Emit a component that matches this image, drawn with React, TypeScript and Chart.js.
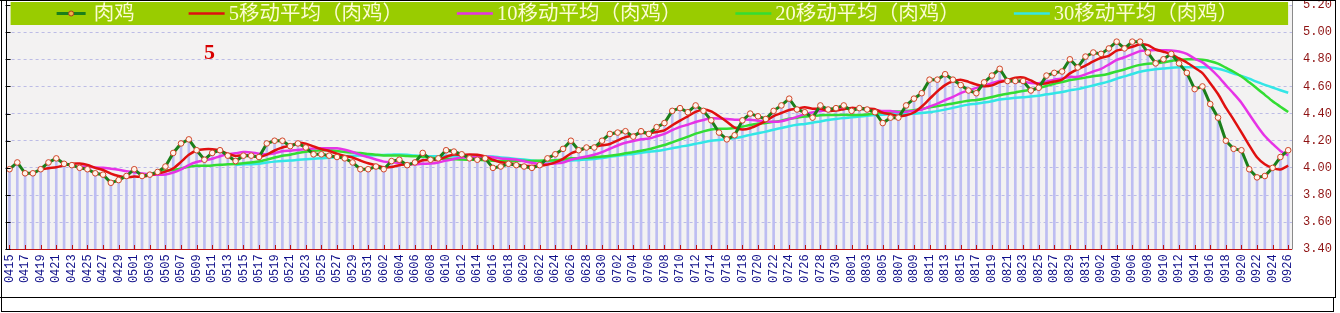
import React, { useEffect, useRef } from "react";
import { Chart, registerables } from "chart.js";
Chart.register(...registerables);

const dates = [
  "0415","0416","0417","0418","0419","0420","0421","0422","0423","0424","0425","0426","0427","0428","0429","0430",
  "0501","0502","0503","0504","0505","0506","0507","0508","0509","0510","0511","0512","0513","0514","0515","0516",
  "0517","0518","0519","0520","0521","0522","0523","0524","0525","0526","0527","0528","0529","0530","0531",
  "0601","0602","0603","0604","0605","0606","0607","0608","0609","0610","0611","0612","0613","0614","0615","0616",
  "0617","0618","0619","0620","0621","0622","0623","0624","0625","0626","0627","0628","0629","0630",
  "0701","0702","0703","0704","0705","0706","0707","0708","0709","0710","0711","0712","0713","0714","0715","0716",
  "0717","0718","0719","0720","0721","0722","0723","0724","0725","0726","0727","0728","0729","0730","0731",
  "0801","0802","0803","0804","0805","0806","0807","0808","0809","0810","0811","0812","0813","0814","0815","0816",
  "0817","0818","0819","0820","0821","0822","0823","0824","0825","0826","0827","0828","0829","0830","0831",
  "0901","0902","0903","0904","0905","0906","0907","0908","0909","0910","0911","0912","0913","0914","0915","0916",
  "0917","0918","0919","0920","0921","0922","0923","0924","0925","0926",
];

const meatPrice = [
  3.99,4.04,3.96,3.96,3.99,4.04,4.07,4.03,4.02,4.00,
  3.99,3.96,3.95,3.89,3.91,3.94,3.99,3.94,3.95,3.97,
  4.01,4.11,4.18,4.21,4.13,4.06,4.11,4.13,4.09,4.05,
  4.09,4.09,4.08,4.18,4.20,4.20,4.16,4.18,4.15,4.10,
  4.10,4.09,4.08,4.07,4.04,3.99,3.99,4.01,3.99,4.05,
  4.06,4.02,4.04,4.11,4.06,4.07,4.13,4.12,4.10,4.07,
  4.06,4.07,4.00,4.01,4.03,4.02,4.01,4.00,4.02,4.07,
  4.10,4.14,4.20,4.13,4.15,4.15,4.20,4.25,4.26,4.27,
  4.23,4.27,4.25,4.30,4.33,4.42,4.44,4.41,4.46,4.42,
  4.35,4.26,4.21,4.24,4.35,4.40,4.38,4.36,4.42,4.46,
  4.51,4.43,4.41,4.37,4.46,4.43,4.44,4.46,4.42,4.44,
  4.43,4.41,4.33,4.37,4.37,4.46,4.51,4.55,4.65,4.65,
  4.69,4.65,4.61,4.57,4.55,4.63,4.68,4.73,4.64,4.64,
  4.64,4.57,4.59,4.68,4.70,4.71,4.80,4.74,4.82,4.85,
  4.84,4.88,4.93,4.88,4.93,4.93,4.85,4.77,4.80,4.84,
  4.77,4.70,4.58,4.60,4.47,4.37,4.20,4.14,4.13,3.99,
  3.93,3.94,4.00,4.08,4.13,
];

const ma5 = [
  null,null,null,null,3.988,3.998,4.004,4.018,4.03,4.032,
  4.022,4.0,3.984,3.958,3.94,3.93,3.936,3.934,3.946,3.958,
  3.972,3.996,4.044,4.096,4.128,4.138,4.138,4.128,4.104,4.088,
  4.094,4.09,4.08,4.098,4.128,4.15,4.164,4.184,4.178,4.158,
  4.138,4.124,4.104,4.088,4.076,4.054,4.034,4.02,4.004,4.006,
  4.02,4.026,4.032,4.056,4.058,4.06,4.082,4.098,4.096,4.098,
  4.096,4.084,4.06,4.042,4.034,4.026,4.014,4.014,4.016,4.024,
  4.04,4.066,4.106,4.128,4.144,4.154,4.166,4.176,4.202,4.226,
  4.242,4.256,4.256,4.264,4.276,4.314,4.348,4.38,4.412,4.43,
  4.416,4.38,4.34,4.296,4.282,4.292,4.316,4.346,4.382,4.404,
  4.426,4.436,4.446,4.436,4.436,4.42,4.422,4.432,4.442,4.438,
  4.438,4.432,4.406,4.396,4.382,4.388,4.408,4.452,4.508,4.564,
  4.61,4.638,4.65,4.634,4.614,4.602,4.608,4.632,4.646,4.664,
  4.666,4.644,4.616,4.624,4.636,4.65,4.696,4.726,4.754,4.784,
  4.81,4.826,4.864,4.876,4.892,4.91,4.904,4.872,4.856,4.838,
  4.806,4.776,4.738,4.698,4.624,4.544,4.444,4.356,4.262,4.166,
  4.078,4.026,3.998,3.988,4.016,
];

const ma10 = [
  null,null,null,null,null,null,null,null,null,4.01,
  4.01,4.002,4.001,3.994,3.986,3.976,3.968,3.959,3.952,3.949,
  3.951,3.966,3.989,4.021,4.043,4.055,4.067,4.086,4.10,4.108,
  4.116,4.114,4.104,4.101,4.108,4.122,4.127,4.132,4.138,4.143,
  4.144,4.144,4.144,4.133,4.117,4.096,4.079,4.062,4.046,4.041,
  4.037,4.03,4.026,4.03,4.032,4.04,4.054,4.065,4.076,4.078,
  4.078,4.083,4.079,4.069,4.066,4.061,4.049,4.037,4.029,4.029,
  4.033,4.04,4.06,4.072,4.084,4.097,4.116,4.141,4.165,4.185,
  4.198,4.211,4.216,4.233,4.251,4.278,4.302,4.318,4.338,4.353,
  4.365,4.364,4.36,4.354,4.356,4.354,4.348,4.343,4.339,4.343,
  4.359,4.376,4.396,4.409,4.42,4.423,4.429,4.439,4.439,4.437,
  4.429,4.427,4.419,4.419,4.41,4.413,4.42,4.429,4.452,4.473,
  4.499,4.523,4.551,4.571,4.589,4.606,4.623,4.641,4.64,4.639,
  4.634,4.626,4.624,4.635,4.65,4.658,4.67,4.671,4.689,4.71,
  4.73,4.761,4.795,4.815,4.838,4.86,4.865,4.868,4.866,4.865,
  4.858,4.84,4.805,4.777,4.731,4.675,4.61,4.547,4.48,4.395,
  4.311,4.235,4.177,4.125,4.091,
];

const ma20 = [
  null,null,null,null,null,null,null,null,null,null,
  null,null,null,null,null,null,null,null,null,3.98,
  3.981,3.984,3.995,4.008,4.015,4.016,4.018,4.023,4.026,4.029,
  4.034,4.04,4.047,4.061,4.076,4.089,4.097,4.109,4.119,4.126,
  4.13,4.129,4.124,4.117,4.113,4.109,4.103,4.097,4.092,4.092,
  4.091,4.087,4.085,4.082,4.075,4.068,4.067,4.064,4.061,4.06,
  4.058,4.057,4.053,4.05,4.049,4.051,4.052,4.051,4.053,4.054,
  4.056,4.062,4.07,4.071,4.075,4.079,4.083,4.089,4.097,4.107,
  4.116,4.126,4.138,4.153,4.168,4.188,4.209,4.23,4.252,4.269,
  4.282,4.288,4.288,4.294,4.304,4.316,4.325,4.331,4.339,4.348,
  4.362,4.37,4.378,4.382,4.388,4.389,4.389,4.391,4.389,4.39,
  4.394,4.402,4.408,4.414,4.415,4.418,4.425,4.434,4.446,4.455,
  4.464,4.475,4.485,4.495,4.50,4.51,4.522,4.535,4.546,4.556,
  4.567,4.575,4.588,4.603,4.62,4.632,4.647,4.656,4.665,4.675,
  4.682,4.694,4.71,4.725,4.744,4.759,4.768,4.77,4.778,4.788,
  4.794,4.80,4.80,4.796,4.785,4.768,4.738,4.708,4.673,4.63,
  4.585,4.538,4.491,4.451,4.411,
];

const ma30 = [
  null,null,null,null,null,null,null,null,null,null,
  null,null,null,null,null,null,null,null,null,null,
  null,null,null,null,null,null,null,null,null,4.022,
  4.026,4.027,4.031,4.039,4.046,4.051,4.054,4.059,4.063,4.067,
  4.07,4.075,4.079,4.085,4.089,4.091,4.091,4.093,4.095,4.097,
  4.099,4.096,4.091,4.088,4.086,4.086,4.087,4.086,4.087,4.087,
  4.086,4.086,4.083,4.077,4.072,4.066,4.061,4.055,4.05,4.049,
  4.049,4.051,4.055,4.057,4.061,4.066,4.073,4.081,4.09,4.097,
  4.103,4.111,4.118,4.125,4.134,4.145,4.156,4.165,4.177,4.189,
  4.199,4.205,4.212,4.22,4.23,4.243,4.255,4.267,4.281,4.294,
  4.307,4.317,4.324,4.332,4.342,4.352,4.36,4.367,4.372,4.378,
  4.384,4.389,4.392,4.394,4.395,4.397,4.399,4.404,4.41,4.418,
  4.429,4.442,4.455,4.466,4.473,4.481,4.491,4.503,4.51,4.516,
  4.521,4.525,4.531,4.542,4.55,4.559,4.571,4.58,4.594,4.607,
  4.621,4.637,4.657,4.674,4.692,4.708,4.719,4.727,4.732,4.738,
  4.741,4.742,4.741,4.742,4.74,4.731,4.715,4.695,4.678,4.657,
  4.633,4.612,4.592,4.572,4.553,
];

const seriesLabels = ["肉鸡", "5移动平均（肉鸡）", "10移动平均（肉鸡）", "20移动平均（肉鸡）", "30移动平均（肉鸡）"];
const seriesColors = ["#1a7f1a", "#e01010", "#e633e6", "#33dd33", "#33e6e6"];
const annotationText = "5";

const W = 1340;
const H = 313;

const decorPlugin = {
  id: "decor",
  beforeDraw(chart: any) {
    const { ctx, chartArea: a } = chart;
    ctx.save();
    ctx.fillStyle = "#ffffff";
    ctx.fillRect(0, 0, chart.width, chart.height);
    ctx.fillStyle = "#f3f2f2";
    ctx.fillRect(a.left, a.top, a.right - a.left, a.bottom - a.top);
    ctx.restore();
  },
  afterDatasetsDraw(chart: any) {
    const { ctx, chartArea: a, scales } = chart;
    const xs = scales.x;
    const ys = scales.y;
    ctx.save();
    ctx.strokeStyle = "#c01010";
    ctx.lineWidth = 1;
    ctx.beginPath();
    ctx.moveTo(a.left, Math.round(a.bottom) + 0.5);
    ctx.lineTo(a.right, Math.round(a.bottom) + 0.5);
    for (let i = 0; i < dates.length; i += 2) {
      const px = Math.round(xs.getPixelForValue(i)) + 0.5;
      ctx.moveTo(px, Math.round(a.bottom));
      ctx.lineTo(px, Math.round(a.bottom) - 4);
    }
    ctx.stroke();
    ctx.strokeStyle = "#8a8a8a";
    ctx.beginPath();
    ctx.moveTo(Math.round(a.right) + 0.5, 0);
    ctx.lineTo(Math.round(a.right) + 0.5, a.bottom);
    ctx.stroke();
    ctx.strokeStyle = "#000000";
    ctx.beginPath();
    ctx.moveTo(Math.round(a.left) + 0.5, 0);
    ctx.lineTo(Math.round(a.left) + 0.5, a.bottom);
    ys.ticks.forEach((t: any) => {
      const py = Math.round(ys.getPixelForValue(t.value)) + 0.5;
      ctx.moveTo(a.left, py);
      ctx.lineTo(a.left + 5, py);
    });
    ctx.stroke();
    ctx.restore();
  },
  afterDraw(chart: any) {
    const { ctx, chartArea: a } = chart;
    ctx.save();
    const bx = a.left + 5;
    const bw = a.right - 4 - bx;
    ctx.fillStyle = "#99cc00";
    ctx.fillRect(bx, 2, bw, 23);
    ctx.font = '20.5px "Liberation Serif", "Noto Sans CJK SC", serif';
    ctx.textBaseline = "middle";
    const sampleW = [29, 36, 36, 36, 36];
    const sampleGap = [8, 4, 4, 4, 4];
    const itemGap = 54;
    const widths = seriesLabels.map((t, i) => sampleW[i] + sampleGap[i] + ctx.measureText(t).width);
    const total = widths.reduce((s, w) => s + w, 0) + itemGap * (widths.length - 1);
    let x = 647.5 - total / 2;
    const cy = 13.5;
    seriesLabels.forEach((t, i) => {
      ctx.strokeStyle = seriesColors[i];
      ctx.lineWidth = i === 0 ? 3 : 2.5;
      ctx.beginPath();
      ctx.moveTo(x, cy);
      ctx.lineTo(x + sampleW[i], cy);
      ctx.stroke();
      if (i === 0) {
        ctx.beginPath();
        ctx.arc(x + sampleW[i] / 2, cy, 2.5, 0, Math.PI * 2);
        ctx.fillStyle = "#f2b24a";
        ctx.fill();
        ctx.lineWidth = 1;
        ctx.strokeStyle = "#b03a1a";
        ctx.stroke();
      }
      ctx.fillStyle = "#fbfbd2";
      ctx.fillText(t, x + sampleW[i] + sampleGap[i], cy + 1);
      x += widths[i] + itemGap;
    });
    ctx.fillStyle = "#d80000";
    ctx.font = 'bold 22px "Liberation Serif", serif';
    ctx.textBaseline = "alphabetic";
    ctx.textAlign = "left";
    ctx.fillText(annotationText, 204, 58.5);
    ctx.strokeStyle = "#000000";
    ctx.lineWidth = 1;
    ctx.beginPath();
    ctx.moveTo(0, 0.5);
    ctx.lineTo(1336, 0.5);
    ctx.moveTo(1.5, 0);
    ctx.lineTo(1.5, 298);
    ctx.moveTo(1335.5, 0);
    ctx.lineTo(1335.5, 298);
    ctx.moveTo(0, 297.5);
    ctx.lineTo(1336, 297.5);
    ctx.stroke();
    ctx.strokeRect(1.5, 297.5, 1332, 14);
    ctx.restore();
  },
};

export default function App() {
  const ref = useRef<HTMLCanvasElement | null>(null);
  useEffect(() => {
    if (!ref.current) return;
    const lineBase = {
      type: "line" as const,
      borderWidth: 2.5,
      pointRadius: 0,
      tension: 0.25,
      fill: false,
      spanGaps: false,
    };
    const chart = new Chart(ref.current, {
      type: "bar",
      data: {
        labels: dates,
        datasets: [
          {
            type: "line",
            label: seriesLabels[0],
            data: meatPrice,
            borderColor: seriesColors[0],
            borderWidth: 3,
            pointRadius: 2.8,
            pointBackgroundColor: "#fff4ea",
            pointBorderColor: "#d0462a",
            pointBorderWidth: 1,
            tension: 0,
            fill: false,
          } as any,
          { ...lineBase, label: seriesLabels[1], data: ma5, borderColor: seriesColors[1] } as any,
          { ...lineBase, label: seriesLabels[2], data: ma10, borderColor: seriesColors[2] } as any,
          { ...lineBase, label: seriesLabels[3], data: ma20, borderColor: seriesColors[3] } as any,
          { ...lineBase, label: seriesLabels[4], data: ma30, borderColor: seriesColors[4] } as any,
          {
            type: "bar",
            label: "bars",
            data: meatPrice,
            backgroundColor: "#bdbdf2",
            barThickness: 2,
          } as any,
        ],
      },
      options: {
        responsive: false,
        animation: false,
        events: [],
        layout: { padding: { left: 5.6, top: 3.4, right: 0, bottom: 0 } },
        plugins: { legend: { display: false }, tooltip: { enabled: false } },
        scales: {
          x: {
            offset: true,
            grid: { display: false, drawTicks: false },
            border: { display: false },
            afterFit: (s: any) => {
              s.height = H - 249.3;
              s.paddingLeft = 0;
              s.paddingRight = 0;
              s.paddingTop = 0;
              s.paddingBottom = 0;
            },
            ticks: {
              autoSkip: false,
              minRotation: 90,
              maxRotation: 90,
              padding: 5,
              color: "#10108a",
              font: { family: '"Liberation Mono", monospace', size: 12 },
              callback: (_v: any, i: number) => (i % 2 === 0 ? dates[i] : ""),
            },
          },
          y: {
            position: "right",
            min: 3.4,
            max: 5.2,
            afterFit: (s: any) => {
              s.width = W - 1292.1;
              s.paddingTop = 0;
              s.paddingBottom = 0;
              s.paddingLeft = 0;
              s.paddingRight = 0;
            },
            grid: { color: "#bcbce6", drawTicks: false, lineWidth: 1 },
            border: { display: false, dash: [3, 3] },
            ticks: {
              stepSize: 0.2,
              padding: 11,
              color: "#8e1212",
              font: { family: '"Liberation Mono", monospace', size: 12 },
              callback: (v: any) => Number(v).toFixed(2),
            },
          },
        },
      },
      plugins: [decorPlugin],
    } as any);
    return () => chart.destroy();
  }, []);
  return (
    <div style={{ position: "absolute", left: 0, top: 0, width: W, height: H, overflow: "hidden" }}>
      <canvas ref={ref} width={W} height={H} style={{ display: "block" }} />
    </div>
  );
}
